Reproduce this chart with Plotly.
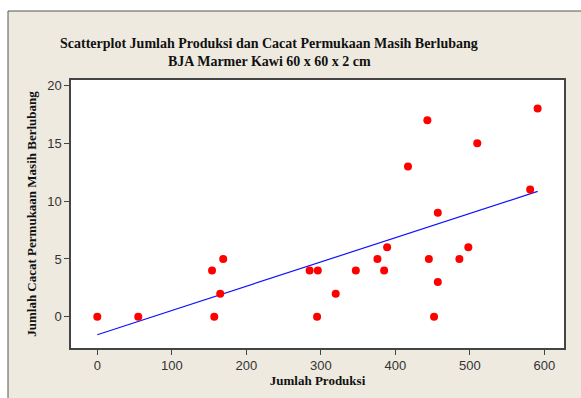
import numpy as np
import plotly.graph_objects as go

produksi = [0, 55, 154, 157, 165, 169, 285, 296, 295, 320, 347, 376, 385,
            389, 417, 443, 445, 452, 457, 457, 486, 498, 510, 581, 591]
cacat = [0, 0, 4, 0, 2, 5, 4, 4, 0, 2, 4, 5, 4,
         6, 13, 17, 5, 0, 9, 3, 5, 6, 15, 11, 18]
x_ticks = [0, 100, 200, 300, 400, 500, 600]
y_ticks = [0, 5, 10, 15, 20]

# fitted line coefficients as shown in the chart
fit_intercept = -1.55
fit_slope = 0.02096

xl = np.array([min(produksi), max(produksi)])
yl = fit_intercept + fit_slope * xl

W, H = 581, 398
ml, mr, mt, mb = 71, 17, 80, 50
pw, ph = W - ml - mr, H - mt - mb

def px(x):
    return (x - ml) / pw

def py(y):
    return (H - mb - y) / ph

beige = "#EEEAE0"
fig = go.Figure()
fig.add_trace(go.Scatter(x=xl, y=yl, mode="lines",
                         line=dict(color="#1010FF", width=1.2),
                         hoverinfo="skip", showlegend=False))
fig.add_trace(go.Scatter(x=produksi, y=cacat, mode="markers",
                         marker=dict(color="#FF0000", size=8),
                         showlegend=False))

serif = "Liberation Serif, Times New Roman, serif"
fig.update_layout(
    width=W, height=H,
    margin=dict(l=ml, r=mr, t=mt, b=mb),
    paper_bgcolor="white",
    plot_bgcolor="white",
    showlegend=False,
    shapes=[
        dict(type="rect", xref="paper", yref="paper",
             x0=px(8), x1=px(W + 20), y0=py(H + 20), y1=py(11),
             fillcolor=beige, line=dict(color="#555555", width=1), layer="below"),
        dict(type="rect", xref="paper", yref="paper",
             x0=0, x1=1, y0=0, y1=1,
             fillcolor="white", line=dict(width=0), layer="below"),
    ],
    annotations=[
        dict(text="<b>Scatterplot Jumlah Produksi dan Cacat Permukaan Masih Berlubang</b>",
             xref="paper", yref="paper", x=px(269), y=py(43),
             showarrow=False, font=dict(family=serif, size=14, color="#111111"),
             xanchor="center", yanchor="middle"),
        dict(text="<b>BJA Marmer Kawi 60 x 60 x 2 cm</b>",
             xref="paper", yref="paper", x=px(269), y=py(62),
             showarrow=False, font=dict(family=serif, size=14, color="#111111"),
             xanchor="center", yanchor="middle"),
    ],
    xaxis=dict(range=[-35.3, 626.4], tickvals=x_ticks, showgrid=False, zeroline=False,
               showline=True, linecolor="#444444", linewidth=1.5, mirror=True,
               ticks="outside", ticklen=5, tickcolor="#444444",
               tickfont=dict(family="Liberation Sans, Arial", size=13, color="#333333"),
               title=dict(text="<b>Jumlah Produksi</b>", standoff=4,
                          font=dict(family=serif, size=13, color="#111111"))),
    yaxis=dict(range=[-2.7, 20.47], tickvals=y_ticks, showgrid=False, zeroline=False,
               showline=True, linecolor="#444444", linewidth=1.5, mirror=True,
               ticks="outside", ticklen=5, tickcolor="#444444",
               tickfont=dict(family="Liberation Sans, Arial", size=13, color="#333333"),
               title=dict(text="<b>Jumlah Cacat Permukaan Masih Berlubang</b>", standoff=8,
                          font=dict(family=serif, size=13, color="#111111"))),
)

fig.write_html("out.html")
